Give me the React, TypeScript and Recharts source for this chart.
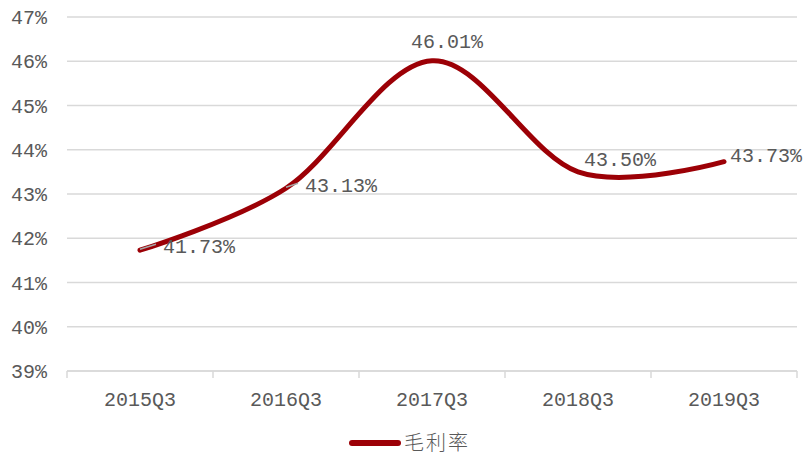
import React from "react";
import { LineChart, Line, XAxis, YAxis, CartesianGrid, LabelList, Legend } from "recharts";

// Gross margin by quarter
const quarters = ["2015Q3", "2016Q3", "2017Q3", "2018Q3", "2019Q3"];
const grossMargin = [41.73, 43.13, 46.01, 43.5, 43.73];
const yTicks = [39, 40, 41, 42, 43, 44, 45, 46, 47];
const seriesName = "毛利率";

const data = quarters.map((q, i) => ({ quarter: q, value: grossMargin[i] }));

const W = 808;
const H = 456;
const LEGEND_H = 30;
const MARGIN = { top: 17, right: 11, left: 0, bottom: 85 - LEGEND_H };
const Y_AXIS_W = 67;
const PLOT_W = W - MARGIN.left - MARGIN.right - Y_AXIS_W;
const BAND = PLOT_W / quarters.length;
const AXIS_Y = 371;

const RED = "#9c0006";
const GRID = "#d9d9d9";
const TEXT = "#595959";
const MONO = "'Liberation Mono', 'DejaVu Sans Mono', monospace";

// Cardinal (Catmull-Rom) curve, similar to office-style smoothed lines
class SmoothCurve {
  _context: any;
  _k: number;
  _line: number = NaN;
  _point = 0;
  _x0 = NaN; _x1 = NaN; _x2 = NaN;
  _y0 = NaN; _y1 = NaN; _y2 = NaN;
  constructor(context: any, tension: number) {
    this._context = context;
    this._k = (1 - tension) / 6;
  }
  seg(x: number, y: number) {
    this._context.bezierCurveTo(
      this._x1 + this._k * (this._x2 - this._x0),
      this._y1 + this._k * (this._y2 - this._y0),
      this._x2 + this._k * (this._x1 - x),
      this._y2 + this._k * (this._y1 - y),
      this._x2,
      this._y2
    );
  }
  areaStart() { this._line = 0; }
  areaEnd() { this._line = NaN; }
  lineStart() {
    this._x0 = this._x1 = this._x2 = this._y0 = this._y1 = this._y2 = NaN;
    this._point = 0;
  }
  lineEnd() {
    switch (this._point) {
      case 2: this._context.lineTo(this._x2, this._y2); break;
      case 3: this.seg(this._x1, this._y1); break;
    }
    if (this._line || (this._line !== 0 && this._point === 1)) this._context.closePath();
    this._line = 1 - this._line;
  }
  point(x: number, y: number) {
    x = +x; y = +y;
    switch (this._point) {
      case 0:
        this._point = 1;
        this._line ? this._context.lineTo(x, y) : this._context.moveTo(x, y);
        break;
      case 1:
        this._point = 2;
        this._x1 = x; this._y1 = y;
        break;
      case 2:
        this._point = 3;
        this.seg(x, y);
        break;
      default:
        this.seg(x, y);
        break;
    }
    this._x0 = this._x1; this._x1 = this._x2; this._x2 = x;
    this._y0 = this._y1; this._y1 = this._y2; this._y2 = y;
  }
}
const smoothCurve = (context: any) => new SmoothCurve(context, 0);

// label placement per point: [dx, dy, anchor, leader]
const labelPlacement: [number, number, string, boolean][] = [
  [23, -4, "start", true],
  [19, -3, "start", true],
  [15, -20, "middle", false],
  [6, -13, "start", false],
  [6, -7, "start", false],
];

const ValueLabel = (props: any) => {
  const { x, y, index, value } = props;
  const [dx, dy, anchor, leader] = labelPlacement[index];
  return (
    <g>
      {leader && (
        <line x1={x} y1={y - 1} x2={x + dx - 7} y2={y + dy - 2} stroke="#a6a6a6" strokeWidth={1.5} />
      )}
      <text
        x={x + dx}
        y={y + dy}
        dy="0.36em"
        textAnchor={anchor}
        fill={TEXT}
        fontSize={20}
        fontFamily={MONO}
      >
        {Number(value).toFixed(2)}%
      </text>
    </g>
  );
};

const CategoryTick = (props: any) => {
  const { x, y, payload, index } = props;
  const half = BAND / 2;
  return (
    <g>
      <line x1={x - half} y1={AXIS_Y} x2={x - half} y2={AXIS_Y + 7} stroke={GRID} strokeWidth={1.5} />
      {index === quarters.length - 1 && (
        <line x1={x + half} y1={AXIS_Y} x2={x + half} y2={AXIS_Y + 7} stroke={GRID} strokeWidth={1.5} />
      )}
      <text x={x} y={y} dy="0.71em" textAnchor="middle" fill={TEXT} fontSize={20} fontFamily={MONO}>
        {payload.value}
      </text>
    </g>
  );
};

const LegendContent = () => (
  <div style={{ display: "flex", alignItems: "center", paddingLeft: 349 }}>
    <svg width={52} height={10} style={{ display: "block", marginTop: 2 }}>
      <line x1={3} y1={5} x2={49} y2={5} stroke={RED} strokeWidth={6} strokeLinecap="round" />
    </svg>
    <span
      style={{
        marginLeft: 3,
        fontSize: 20,
        color: TEXT,
        fontFamily: "'Noto Sans CJK SC', sans-serif",
        fontWeight: 300,
        letterSpacing: 2,
        lineHeight: "normal",
      }}
    >
      {seriesName}
    </span>
  </div>
);

export default function App() {
  return (
    <div style={{ width: W, height: H, background: "#fff" }}>
      <style>{`body{margin:0}`}</style>
      <LineChart width={W} height={H} data={data} margin={MARGIN}>
        <CartesianGrid vertical={false} stroke={GRID} strokeWidth={1.5} />
        <XAxis
          dataKey="quarter"
          scale="band"
          axisLine={{ stroke: GRID, strokeWidth: 1.5 }}
          tickLine={false}
          tickSize={0}
          tickMargin={21}
          tick={<CategoryTick />}
          interval={0}
        />
        <YAxis
          width={Y_AXIS_W}
          domain={[39, 47]}
          ticks={yTicks}
          axisLine={false}
          tickLine={false}
          tickSize={0}
          tickMargin={20}
          tickFormatter={(v: number) => `${v}%`}
          tick={{ fill: TEXT, fontSize: 20, fontFamily: MONO }}
        />
        <Legend
          layout="horizontal"
          verticalAlign="middle"
          align="center"
          wrapperStyle={{ top: 427, left: 0, width: W }}
          content={<LegendContent />}
        />
        <Line
          dataKey="value"
          name={seriesName}
          type={smoothCurve as any}
          stroke={RED}
          strokeWidth={5}
          strokeLinecap="round"
          dot={false}
          activeDot={false}
          isAnimationActive={false}
        >
          <LabelList dataKey="value" content={<ValueLabel />} />
        </Line>
      </LineChart>
    </div>
  );
}
